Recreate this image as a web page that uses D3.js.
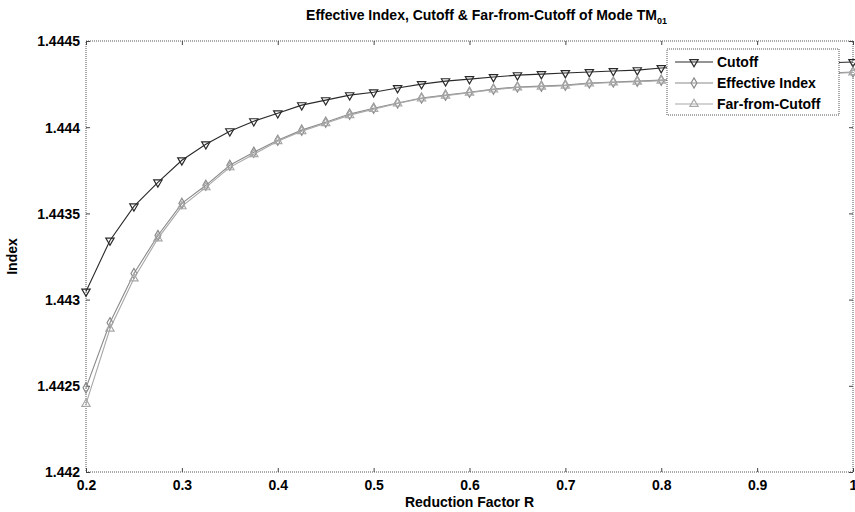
<!DOCTYPE html>
<html>
<head>
<meta charset="utf-8">
<script src="https://cdn.jsdelivr.net/npm/d3@7"></script>
<style>
  body { margin: 0; background: #fff; }
  svg { display: block; font-family: Arial, "Liberation Sans", sans-serif; }
</style>
</head>
<body>
<svg id="chart" width="855" height="512"></svg>
<script>
// reduction factor R, step 0.025
const rValues = d3.range(33).map(i => +(0.2 + i * 0.025).toFixed(3));

const cutoffValues = [
    1.443047, 1.443343, 1.443541, 1.443680, 1.443808, 1.443901, 1.443977, 1.444035,
    1.444081, 1.444128, 1.444157, 1.444186, 1.444203, 1.444227, 1.444250, 1.444267,
    1.444279, 1.444291, 1.444302, 1.444308, 1.444314, 1.444320, 1.444326, 1.444331,
    1.444343, 1.444349, 1.444354, 1.444358, 1.444362, 1.444366, 1.444370, 1.444374,
    1.444378
];

const effectiveValues = [
    1.442488, 1.442866, 1.443151, 1.443372, 1.443558, 1.443663, 1.443779, 1.443855,
    1.443924, 1.443983, 1.444029, 1.444076, 1.444110, 1.444140, 1.444169, 1.444186,
    1.444203, 1.444221, 1.444233, 1.444238, 1.444244, 1.444256, 1.444262, 1.444267,
    1.444273, 1.444279, 1.444285, 1.444291, 1.444297, 1.444302, 1.444308, 1.444314,
    1.444320
];

const farValues = [
    1.442395, 1.442831, 1.443122, 1.443355, 1.443541, 1.443651, 1.443767, 1.443843,
    1.443919, 1.443977, 1.444023, 1.444070, 1.444105, 1.444137, 1.444166, 1.444183,
    1.444200, 1.444218, 1.444230, 1.444235, 1.444241, 1.444253, 1.444259, 1.444264,
    1.444270, 1.444276, 1.444282, 1.444288, 1.444294, 1.444299, 1.444305, 1.444311,
    1.444317
];

const xTicks = [0.2, 0.3, 0.4, 0.5, 0.6, 0.7, 0.8, 0.9, 1];
const yTicks = [1.442, 1.4425, 1.443, 1.4435, 1.444, 1.4445];

const seriesList = [
    { name: "Cutoff", values: cutoffValues, color: "#2a2a2a", symbol: "down" },
    { name: "Effective Index", values: effectiveValues, color: "#8a8a8a", symbol: "diamond" },
    { name: "Far-from-Cutoff", values: farValues, color: "#a8a8a8", symbol: "up" }
];

const svg = d3.select("#chart");
const marginLeft = 86, marginRight = 2, marginTop = 41, marginBottom = 40;
const width = 855, height = 512;
const plotRight = width - marginRight;
const plotBottom = height - marginBottom;

const xScale = d3.scaleLinear().domain([0.2, 1]).range([marginLeft, plotRight]);
const yScale = d3.scaleLinear().domain([1.442, 1.4445]).range([plotBottom, marginTop]);

// plot box, dotted like the scanned original
svg.append("rect")
    .attr("x", marginLeft).attr("y", marginTop)
    .attr("width", plotRight - marginLeft).attr("height", plotBottom - marginTop)
    .attr("fill", "none").attr("stroke", "#555").attr("stroke-width", 1)
    .attr("stroke-dasharray", "1,1");

const tickFmt = d => d3.format("")(+d.toFixed(4));

const xAxis = svg.append("g")
    .attr("transform", `translate(0,${plotBottom})`)
    .call(d3.axisBottom(xScale).tickValues(xTicks).tickSize(-4).tickPadding(8).tickFormat(tickFmt));
const xAxisTop = svg.append("g")
    .attr("transform", `translate(0,${marginTop})`)
    .call(d3.axisTop(xScale).tickValues(xTicks).tickSize(-4).tickFormat(""));
const yAxis = svg.append("g")
    .attr("transform", `translate(${marginLeft},0)`)
    .call(d3.axisLeft(yScale).tickValues(yTicks).tickSize(-4).tickPadding(6).tickFormat(tickFmt));
const yAxisRight = svg.append("g")
    .attr("transform", `translate(${plotRight},0)`)
    .call(d3.axisRight(yScale).tickValues(yTicks).tickSize(-4).tickFormat(""));

[xAxis, xAxisTop, yAxis, yAxisRight].forEach(g => {
    g.select(".domain").remove();
    g.selectAll(".tick line").attr("stroke", "#444");
    g.selectAll("text")
        .attr("fill", "#000")
        .attr("font-size", 14)
        .attr("font-weight", "bold");
});
yAxis.selectAll(".tick text").attr("dy", "0.35em");

// series
const symbolTypes = { down: d3.symbolTriangle, diamond: d3.symbolDiamond, up: d3.symbolTriangle };

const line = d3.line()
    .x((d, i) => xScale(rValues[i]))
    .y(d => yScale(d));

seriesList.forEach(s => {
    const g = svg.append("g");
    g.append("path")
        .datum(s.values)
        .attr("fill", "none")
        .attr("stroke", s.color)
        .attr("stroke-width", 1.1)
        .attr("d", line);
    g.selectAll("path.marker")
        .data(s.values)
        .join("path")
        .attr("class", "marker")
        .attr("d", d3.symbol().type(symbolTypes[s.symbol]).size(30))
        .attr("transform", (d, i) =>
            `translate(${xScale(rValues[i])},${yScale(d)})` + (s.symbol === "down" ? " rotate(180)" : ""))
        .attr("fill", "none")
        .attr("stroke", s.color)
        .attr("stroke-width", 1.2);
});

// legend
const legendX = 667, legendY = 49, legendW = 172, legendH = 66;
const legend = svg.append("g");
legend.append("rect")
    .attr("x", legendX).attr("y", legendY)
    .attr("width", legendW).attr("height", legendH)
    .attr("fill", "#fff").attr("stroke", "#555")
    .attr("stroke-dasharray", "1,1");

seriesList.forEach((s, i) => {
    const cy = legendY + 13 + i * 21;
    legend.append("line")
        .attr("x1", legendX + 8).attr("x2", legendX + 46)
        .attr("y1", cy).attr("y2", cy)
        .attr("stroke", s.color).attr("stroke-width", 1.1);
    legend.append("path")
        .attr("d", d3.symbol().type(symbolTypes[s.symbol]).size(30))
        .attr("transform", `translate(${legendX + 27},${cy})` + (s.symbol === "down" ? " rotate(180)" : ""))
        .attr("fill", "none").attr("stroke", s.color).attr("stroke-width", 1.2);
    legend.append("text")
        .attr("x", legendX + 50).attr("y", cy)
        .attr("dy", "0.35em")
        .attr("font-size", 14).attr("font-weight", "bold")
        .text(s.name);
});

// title and axis labels
const title = svg.append("text")
    .attr("x", (marginLeft + plotRight) / 2 + 17).attr("y", 20)
    .attr("text-anchor", "middle")
    .attr("font-size", 14).attr("font-weight", "bold");
title.append("tspan").text("Effective Index, Cutoff & Far-from-Cutoff of Mode TM");
title.append("tspan").attr("font-size", 9).attr("dy", 4).text("01");

svg.append("text")
    .attr("x", (marginLeft + plotRight) / 2).attr("y", 507)
    .attr("text-anchor", "middle")
    .attr("font-size", 14).attr("font-weight", "bold")
    .text("Reduction Factor R");

svg.append("text")
    .attr("transform", `translate(17,${(marginTop + plotBottom) / 2}) rotate(-90)`)
    .attr("text-anchor", "middle")
    .attr("font-size", 14).attr("font-weight", "bold")
    .text("Index");
</script>
</body>
</html>
